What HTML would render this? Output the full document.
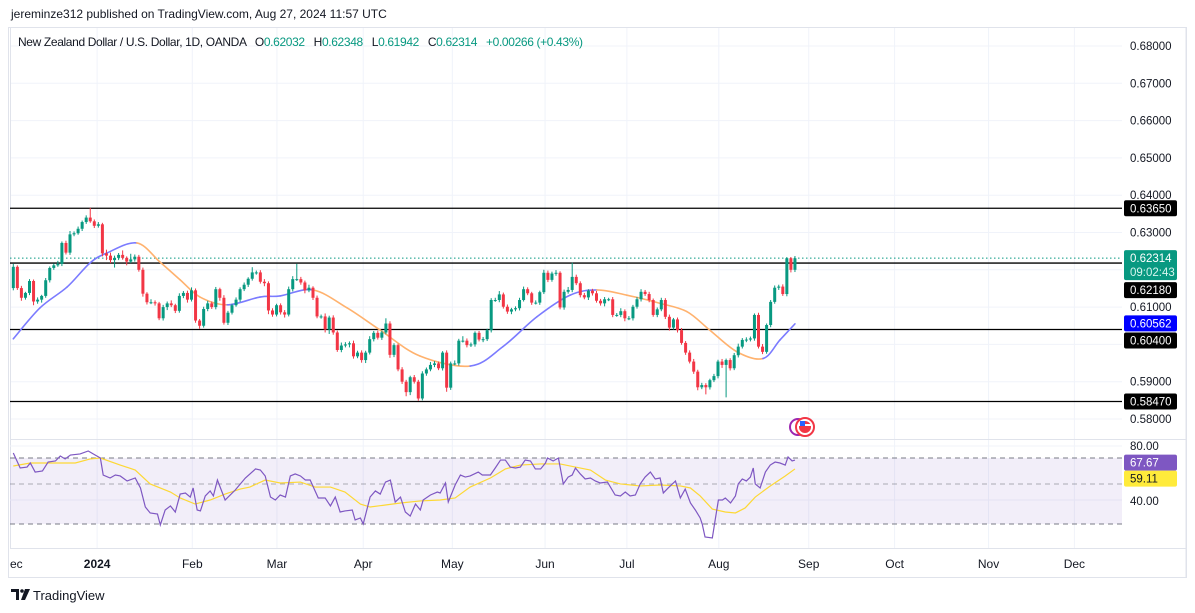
<!DOCTYPE html>
<html><head><meta charset="utf-8">
<style>
html,body{margin:0;padding:0;background:#fff;width:1195px;height:613px;overflow:hidden;font-family:"Liberation Sans",sans-serif;}
svg{display:block}
text{font-family:"Liberation Sans",sans-serif;}
</style></head>
<body>
<svg id="chart" width="1195" height="613" viewBox="0 0 1195 613" xmlns="http://www.w3.org/2000/svg">
  <text x="11" y="18" font-size="12" fill="#131722">jereminze312 published on TradingView.com, Aug 27, 2024 11:57 UTC</text>
  <rect x="8.5" y="27.5" width="1178" height="550" fill="none" stroke="#e0e3eb"/>
  <g id="grid"></g>
  <g id="levels"></g>
  <g id="ma"></g>
  <g id="candles"></g>
  <g id="rsi"></g>
  <g id="axes"></g>
  <text x="18" y="46" font-size="12" fill="#131722" xml:space="preserve" textLength="565" lengthAdjust="spacing">New Zealand Dollar / U.S. Dollar, 1D, OANDA   O<tspan fill="#089981">0.62032</tspan>   H<tspan fill="#089981">0.62348</tspan>   L<tspan fill="#089981">0.61942</tspan>   C<tspan fill="#089981">0.62314</tspan>   <tspan fill="#089981">+0.00266 (+0.43%)</tspan></text>
  <g>
    <circle cx="798" cy="427" r="8" fill="#fff" stroke="#9c27b0" stroke-width="2"/>
    <circle cx="805" cy="427" r="9" fill="#fff" stroke="#f23645" stroke-width="2"/>
    <circle cx="805" cy="427" r="6" fill="#f23645"/>
    <rect x="799" y="424" width="12" height="2" fill="#fff"/>
    <rect x="800" y="421" width="5" height="5" fill="#2962ff"/>
  </g>
  <g>
    <path d="M11 589h8v11h-3v-8h-5z" fill="#131722"/>
    <circle cx="22" cy="591" r="1.8" fill="#131722"/>
    <path d="M25 589h5l-5 11h-4z" fill="#131722"/>
    <text x="33" y="600" font-size="13" fill="#131722">TradingView</text>
  </g>
</svg>
<script>
const closes=[.6208,.6151,.6125,.6138,.6170,.6115,.6120,.6130,.6172,.6205,
.6212,.6216,.6272,.6246,.6295,.6298,.6310,.6328,.6340,.6330,
.6318,.6322,.6244,.6238,.6226,.6232,.6240,.6232,.6222,.6228,
.6235,.6200,.6136,.6113,.6113,.6110,.6070,.6100,.6110,.6105,
.6090,.6130,.6138,.6120,.6145,.6064,.6050,.6095,.6110,.6100,
.6148,.6125,.6058,.6085,.6105,.6120,.6148,.6160,.6176,.6193,
.6193,.6168,.6164,.6091,.6080,.6105,.6086,.6080,.6148,.6175,
.6175,.6166,.6145,.6152,.6125,.6075,.6075,.6040,.6072,.6032,
.5985,.5997,.6000,.6003,.5968,.5978,.5958,.5978,.6014,.6031,
.6018,.6032,.6056,.5972,.5998,.5933,.5900,.5872,.5912,.5900,
.5855,.5922,.5933,.5945,.5949,.5936,.5978,.5884,.5949,.5949,
.6010,.6010,.5998,.6000,.6031,.6013,.6014,.6038,.6119,.6119,
.6134,.6101,.6088,.6094,.6097,.6119,.6148,.6137,.6112,.6112,
.6140,.6192,.6173,.6190,.6192,.6099,.6141,.6146,.6181,.6164,
.6132,.6126,.6144,.6137,.6117,.6110,.6121,.6121,.6079,.6079,
.6089,.6070,.6070,.6101,.6121,.6141,.6135,.6119,.6079,.6094,
.6119,.6074,.6045,.6067,.6038,.6004,.5978,.5954,.5927,.5885,
.5891,.5885,.5904,.5915,.5954,.5945,.5958,.5936,.5971,.5994,
.6012,.6013,.6016,.6079,.5994,.5980,.6052,.6114,.6152,.6155,
.6135,.6231,.6200,.6231];
const firstOpen=.6151;
const wickUp=[8,4,6,3,5,4,6,3,6,4, 5,8,4,6,9,5,6,4,6,26, 5,6,4,10,8,6,5,12,4,15, 6,5,6,4,8,5,4,6,5,8, 4,7,5,6,8,5,4,6,7,5, 6,4,7,5,4,6,5,6,4,14, 5,6,7,5,6,4,5,6,7,8, 41,6,5,8,4,6,5,8,5,6, 5,8,6,5,7,5,6,5,8,5, 6,5,14,6,5,4,6,5,4,6, 5,6,5,8,6,5,4,6,5,8, 5,12,6,5,4,5,6,4,5,6, 9,5,6,4,5,6,7,5,4,6, 4,8,6,5,7,4,6,8,38,6, 5,6,4,5,6,5,6,4,6,5, 8,5,6,5,6,7,5,6,4,5, 6,5,6,4,5,6,5,6,7,5, 6,5,4,6,5,7,4,5,6,8, 5,6,5,4,6,7,4,5,6,5, 6,3,3,6];
const wickDn=[6,5,8,5,6,10,6,8,5,6, 5,4,6,5,6,5,4,6,5,4, 6,5,8,12,8,20,6,5,10,4, 6,5,8,6,5,6,5,6,8,5, 6,5,6,8,5,6,8,5,6,5, 6,8,5,6,5,4,6,5,6,5, 6,5,8,10,6,5,6,8,5,6, 5,6,8,5,6,5,6,8,12,6, 5,6,5,8,6,5,7,8,5,6, 5,6,5,8,6,5,6,11,8,5, 6,5,6,5,6,5,6,11,6,5, 6,5,6,5,6,5,7,5,6,5, 6,5,6,7,5,6,4,5,6,5, 6,5,6,5,6,5,6,5,6,5, 6,5,7,6,5,6,8,5,6,5, 6,8,5,6,5,6,5,6,5,6, 5,6,8,5,6,5,6,5,6,8, 5,19,6,5,6,8,87,6,5,6, 5,6,5,6,5,6,5,6,5,6, 5,6,7,6];
const maIdx=[0,6.6,13.3,18.9,23.1,30.5,36.2,41.2,46.1,52.8,60.9,65.9,74,82.4,90.5,100.4,112.8,120.9,129.3,137.5,144.1,151.5,159.7,166.3,172,178.7,185.1,189.3,193];
const maVal=[.6015,.6098,.6154,.6218,.6245,.6272,.6221,.6173,.6127,.6106,.6127,.6130,.6146,.6098,.6039,.5969,.5942,.5994,.6074,.6132,.6146,.6132,.6110,.6088,.6038,.5980,.5962,.6012,.6055];
const rsiIdx=[0,1.7,3.4,4.2,5.4,7.2,8.6,10.4,11.6,12.8,14.1,16.5,18.5,20.2,21.5,22.2,23.9,25.2,26.4,28.1,30.1,31.4,32.6,33.8,35.6,36.3,37.5,38.8,40,41.2,42.5,43.7,44.4,45.4,46.2,47.4,48.6,49.4,50.4,52.3,54.8,57.3,59.8,61,62.2,63.5,64.7,65.9,67.2,68.4,69.6,70.9,72.1,73.3,75.3,77,78.3,79.5,80.7,81.9,83.7,84.4,85.7,86.4,88.1,89.4,90.6,91.9,93.1,94.3,95.6,96.8,98,99.3,100.5,101.2,103,104.7,105.4,106.7,107.4,109.1,110.4,111.6,112.8,114.8,115.8,117.8,119,120.3,121.5,122.7,124,125.2,126.4,127.7,128.9,130.2,131.4,131.9,133.3,134.6,135.8,137,138,138.8,140,141.2,142.5,143.7,144.9,146.7,148.6,149.9,151.1,152.3,153.6,154.8,156,157.3,158.5,159.7,160.5,161.7,163.5,164.7,165.9,167.2,168.4,169.6,170.1,170.8,172.6,173.3,174.1,175.1,175.8,177.1,178.3,179,180,181,182,182.7,183.2,184.4,185.7,186.9,188.1,189.3,190.6,191.3,192.3,193];
const rsiVal=[74.8,63.7,64.4,67.4,60.7,61.5,68.1,68.9,72.6,70.4,73.3,74.1,76.3,73.3,71.1,58.5,56.3,58.5,57.8,54.1,56.3,48.9,34.8,30.4,29.6,21.5,32.6,35.6,31.1,44.4,45.2,42.2,48.9,32.6,31.9,43.0,46.7,43.0,54.8,40,47.4,56.3,63.0,62.2,57.8,42.2,40,43.7,42.2,57.8,59.3,57.8,54.8,54.8,41.5,41.5,35.6,42.2,31.1,31.9,32.6,25.2,26.7,22.2,42.2,46.7,44.4,53.3,54.8,38.5,42.2,31.1,28.1,37.0,32.6,40,43.7,45.9,45.2,52.6,38.5,51.1,58.5,57.0,57.8,60.7,58.5,58.5,63.7,69.6,69.6,64.4,63.7,64.4,69.6,68.9,63.0,63.0,67.4,71.1,68.9,71.1,51.9,57.0,58.5,63.7,59.3,55.6,56.3,54.1,52.6,53.3,43.7,43.0,45.9,43.0,43.7,51.9,57.0,60.7,55.6,56.3,45.2,48.9,54.1,41.5,48.1,37.8,32.6,26.7,22.2,12.6,11.9,25.2,40,40,41.5,37.8,43.0,51.9,55.6,54.1,57.0,63.7,51.9,48.9,60.7,65.9,68.1,67.4,65.9,71.9,68.9,69.6];
const rsiMaIdx=[0,4.2,11.6,15.3,19,21.5,26.4,30.1,33.8,38.8,41.2,44.9,48.6,52.3,56,58.4,62.2,65.9,70.9,74.5,78.3,81.9,85.7,88.1,91.9,95.6,100.5,105.4,109.1,112.8,117.8,121.5,125.2,130.2,135,138.8,142.5,146.2,149.9,154.8,159.7,164.7,167.2,169.6,172.6,175.8,178.3,180.7,183.2,186.9,190.6,193];
const rsiMaVal=[65.2,67.4,67.4,67.4,70.4,71.1,65.9,62.2,51.9,45.9,41.5,37.0,40,44.4,48.1,49.6,54.8,52.6,53.3,49.6,49.6,45.9,37.0,34.8,36.3,37.8,39.3,40,41.5,49.6,56.3,63.0,65.9,66.7,66.7,64.4,62.2,54.8,51.9,50.4,51.1,50.4,48.9,43.0,33.3,31.1,30.4,34.1,42.2,50.4,57.8,63.0];
const priceTicks=[0.68,0.67,0.66,0.65,0.64,0.63,0.61,0.59,0.58];
const levelPrices=[0.6365,0.6218,0.6040,0.5847];
const monthLabels=["ec","2024","Feb","Mar","Apr","May","Jun","Jul","Aug","Sep","Oct","Nov","Dec"];
const monthIdx=[-1,20.7,44.2,65.1,86.4,108.4,131.3,151.5,174.2,196.4,217.6,240.8,262];
const lastRsi=67.67, lastRsiMa=59.11, lastMa=0.60562, lastClose=0.62314;

const NS="http://www.w3.org/2000/svg";
const X0=13.3, STEP=4.05, PL=10, PR=1122;
const xS=i=>X0+i*STEP;
const yP=p=>46+(0.68-p)*3730;
const yR=r=>446+(80-r)*1.35;
function mk(tag,attrs,parent){const e=document.createElementNS(NS,tag);for(const k in attrs)e.setAttribute(k,attrs[k]);parent.appendChild(e);return e;}
const grid=document.getElementById('grid'),levels=document.getElementById('levels'),maG=document.getElementById('ma'),cg=document.getElementById('candles'),rg=document.getElementById('rsi'),ax=document.getElementById('axes');

// grid
monthIdx.forEach((m,k)=>{if(k===0)return;const x=xS(m);const l=mk('line',{x1:x,x2:x,y1:28,y2:548,stroke:'#f0f3fa'},grid);

});
for(let p=0.58;p<=0.6801;p+=0.01){const y=yP(p);const l=mk('line',{x1:PL,x2:PR,y1:y,y2:y,stroke:'#f0f3fa'},grid);

}
mk('line',{x1:10.5,x2:10.5,y1:28,y2:548,stroke:'#e0e3eb'},grid);
const sep=mk('line',{x1:PL,x2:1186,y1:439.5,y2:439.5,stroke:'#e0e3eb'},grid);


[yR(80),yR(40)].forEach(y=>{mk('line',{x1:PL,x2:PR,y1:y,y2:y,stroke:'#f0f3fa'},grid);});

// levels
levelPrices.forEach(p=>{const l=mk('line',{x1:PL,x2:PR,y1:yP(p),y2:yP(p),stroke:'#000','stroke-width':1.3},levels);

});
const dl=mk('line',{x1:PL,x2:PR,y1:yP(lastClose),y2:yP(lastClose),stroke:'#089981','stroke-dasharray':'1.5 2.5'},levels);



// moving average, smooth, coloured by slope
const pts=maIdx.map((t,k)=>[xS(t),yP(maVal[k])]);
for(let k=1;k<pts.length;k++){const up=maVal[k]>=maVal[k-1];
const p0=pts[Math.max(0,k-2)],p1=pts[k-1],p2=pts[k],p3=pts[Math.min(pts.length-1,k+1)];
const c1=[p1[0]+(p2[0]-p0[0])/6,p1[1]+(p2[1]-p0[1])/6],c2=[p2[0]-(p3[0]-p1[0])/6,p2[1]-(p3[1]-p1[1])/6];
const s=mk('path',{d:`M${p1[0]},${p1[1]}C${c1[0]},${c1[1]} ${c2[0]},${c2[1]} ${p2[0]},${p2[1]}`,fill:'none',stroke:up?'#7b7bff':'#ffb26e','stroke-width':1.6,'stroke-linecap':'round'},maG);

}

// candles
closes.forEach((c,i)=>{const o=i===0?firstOpen:closes[i-1];const hi=Math.max(o,c)+wickUp[i]*0.0001,lo=Math.min(o,c)-wickDn[i]*0.0001;
const col=c>=o?'#089981':'#f23645';const x=xS(i);
const g=mk('g',{},cg);


mk('line',{x1:x,x2:x,y1:yP(hi),y2:yP(lo),stroke:col,'stroke-width':1},g);
const yt=yP(Math.max(o,c)),yb=yP(Math.min(o,c));
mk('rect',{x:x-1.5,y:yt,width:3,height:Math.max(1,yb-yt),fill:col},g);});

// RSI
const band=mk('rect',{x:PL,y:458,width:PR-PL,height:66,fill:'#7e57c2','fill-opacity':0.1},rg);


[458,484,524].forEach(y=>{const l=mk('line',{x1:PL,x2:PR,y1:y,y2:y,stroke:'#787b86','stroke-dasharray':'5 4','stroke-opacity':y===484?0.6:1},rg);

});
const rm=mk('polyline',{points:rsiMaIdx.map((t,k)=>xS(t)+','+yR(rsiMaVal[k])).join(' '),fill:'none',stroke:'#fdd835','stroke-width':1.2},rg);


const rl=mk('polyline',{points:rsiIdx.map((t,k)=>xS(t)+','+yR(rsiVal[k])).join(' '),fill:'none',stroke:'#7e57c2','stroke-width':1.2},rg);



// price axis
function lbl(txt,y,bg,fg,name){const g=mk('g',{},ax);


if(bg){mk('rect',{x:1124,y:y-8,width:53,height:16,rx:2,fill:bg},g);}
const t=mk('text',{x:1130,y:y+4,'font-size':11.5,fill:fg},g);t.textContent=txt;return g;}
priceTicks.forEach(p=>lbl(p.toFixed(5),yP(p),null,'#131722','price-tick-label'));
// label y positions: pushed apart like the reference to avoid overlaps
const levelLabelShift=[0,27,11,0];
levelPrices.forEach((p,k)=>lbl(p.toFixed(5),yP(p)+levelLabelShift[k],'#000','#fff','level-price-label'));
lbl(lastMa.toFixed(5),yP(lastMa),'#0000ff','#fff','ma-value-label');
(function(){const y=yP(lastClose);const g=mk('g',{},ax);


mk('rect',{x:1124,y:y-8,width:53,height:30,rx:2,fill:'#089981'},g);
const t1=mk('text',{x:1130,y:y+4,'font-size':11.5,fill:'#fff'},g);t1.textContent=lastClose.toFixed(5);
const t2=mk('text',{x:1130,y:y+18,'font-size':11.5,fill:'#d6f5ee'},g);t2.textContent='09:02:43';})();
lbl('80.00',yR(80),null,'#131722','rsi-tick-label');
lbl('40.00',yR(40)+1,null,'#131722','rsi-tick-label');
lbl(lastRsi.toFixed(2),yR(lastRsi),'#7e57c2','#fff','rsi-value-label');
lbl(lastRsiMa.toFixed(2),yR(lastRsi)+16,'#ffeb3b','#131722','rsi-ma-value-label');
mk('line',{x1:1186,x2:1186,y1:28,y2:577,stroke:'#e0e3eb'},ax);
mk('line',{x1:PL,x2:1186,y1:548.5,y2:548.5,stroke:'#e0e3eb'},ax);

// time axis
monthLabels.forEach((m,k)=>{const x=k===0?10:xS(monthIdx[k]);const t=mk('text',{x:x,y:568,'font-size':12,fill:'#131722','text-anchor':k===0?'start':'middle','font-weight':m==='2024'?'bold':'normal'},ax);


t.textContent=m;});
</script>
</body></html>
